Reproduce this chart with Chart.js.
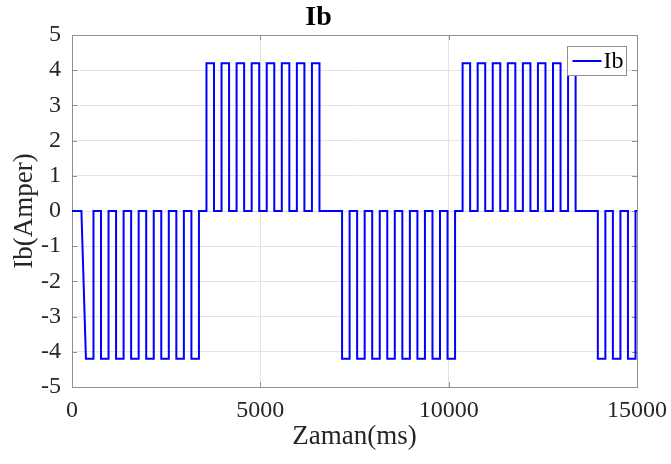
<!DOCTYPE html>
<html>
<head>
<meta charset="utf-8">
<script src="https://cdn.jsdelivr.net/npm/chart.js@4.4.1/dist/chart.umd.min.js"></script>
<style>
html,body{margin:0;padding:0;background:#fff;}
#wrap{width:671px;height:464px;}
canvas{display:block;}
</style>
</head>
<body>
<div id="wrap"><canvas id="c" width="671" height="464"></canvas></div>
<script>
// ---- data ----
const chartTitle = 'Ib';
const seriesLabel = 'Ib';
const xAxisTitle = 'Zaman(ms)';
const yAxisTitle = 'Ib(Amper)';
const xTicks = [0, 5000, 10000, 15000];
const yTicks = [-5, -4, -3, -2, -1, 0, 1, 2, 3, 4, 5];

// waveform vertices (time in ms, current in A)
const timeMs = [
  0, 250, 370, 570, 570,
  770, 770, 970, 970,
  1170, 1170, 1370, 1370,
  1570, 1570, 1770, 1770,
  1970, 1970, 2170, 2170,
  2370, 2370, 2570, 2570,
  2770, 2770, 2970, 2970,
  3170, 3170, 3370, 3370,
  3570, 3570, 3770, 3770,
  3970, 3970, 4170, 4170,
  4370, 4370, 4570, 4570,
  4770, 4770, 4970, 4970,
  5170, 5170, 5370, 5370,
  5570, 5570, 5770, 5770,
  5970, 5970, 6170, 6170,
  6370, 6370, 6570, 6570,
  7170, 7170, 7370, 7370,
  7570, 7570, 7770, 7770,
  7970, 7970, 8170, 8170,
  8370, 8370, 8570, 8570,
  8770, 8770, 8970, 8970,
  9170, 9170, 9370, 9370,
  9570, 9570, 9770, 9770,
  9970, 9970, 10170, 10170,
  10370, 10370, 10570, 10570,
  10770, 10770, 10970, 10970,
  11170, 11170, 11370, 11370,
  11570, 11570, 11770, 11770,
  11970, 11970, 12170, 12170,
  12370, 12370, 12570, 12570,
  12770, 12770, 12970, 12970,
  13170, 13170, 13370, 13370,
  13960, 13960, 14160, 14160,
  14360, 14360, 14560, 14560,
  14760, 14760, 14960, 14960,
  15000
];
const ibAmper = [
  0, 0, -4.2, -4.2, 0,
  0, -4.2, -4.2, 0,
  0, -4.2, -4.2, 0,
  0, -4.2, -4.2, 0,
  0, -4.2, -4.2, 0,
  0, -4.2, -4.2, 0,
  0, -4.2, -4.2, 0,
  0, -4.2, -4.2, 0,
  0, 4.2, 4.2, 0,
  0, 4.2, 4.2, 0,
  0, 4.2, 4.2, 0,
  0, 4.2, 4.2, 0,
  0, 4.2, 4.2, 0,
  0, 4.2, 4.2, 0,
  0, 4.2, 4.2, 0,
  0, 4.2, 4.2, 0,
  0, -4.2, -4.2, 0,
  0, -4.2, -4.2, 0,
  0, -4.2, -4.2, 0,
  0, -4.2, -4.2, 0,
  0, -4.2, -4.2, 0,
  0, -4.2, -4.2, 0,
  0, -4.2, -4.2, 0,
  0, -4.2, -4.2, 0,
  0, 4.2, 4.2, 0,
  0, 4.2, 4.2, 0,
  0, 4.2, 4.2, 0,
  0, 4.2, 4.2, 0,
  0, 4.2, 4.2, 0,
  0, 4.2, 4.2, 0,
  0, 4.2, 4.2, 0,
  0, 4.2, 4.2, 0,
  0, -4.2, -4.2, 0,
  0, -4.2, -4.2, 0,
  0, -4.2, -4.2, 0,
  0
];

// ---- styling ----
const SERIF = "'Liberation Serif', 'Times New Roman', serif";
const LINE_COLOR = '#0000ff';
const TEXT_COLOR = '#262626';
const GRID_COLOR = '#e4e4e4';
const BOX_COLOR = '#8f8f8f';

const framePlugin = {
  id: 'frame',
  beforeDatasetsDraw(chart) {
    const {ctx, chartArea: a, scales: {x, y}} = chart;
    const tl = 5;
    ctx.save();
    ctx.strokeStyle = BOX_COLOR;
    ctx.lineWidth = 1;
    ctx.beginPath();
    xTicks.forEach(v => {
      const px = Math.round(x.getPixelForValue(v)) + 0.5;
      ctx.moveTo(px, a.bottom); ctx.lineTo(px, a.bottom - tl);
      ctx.moveTo(px, a.top); ctx.lineTo(px, a.top + tl);
    });
    yTicks.forEach(v => {
      const py = Math.round(y.getPixelForValue(v)) + 0.5;
      ctx.moveTo(a.left, py); ctx.lineTo(a.left + tl, py);
      ctx.moveTo(a.right, py); ctx.lineTo(a.right - tl, py);
    });
    ctx.stroke();
    ctx.strokeRect(Math.round(a.left) + 0.5, Math.round(a.top) + 0.5,
                   Math.round(a.right - a.left), Math.round(a.bottom - a.top));
    ctx.restore();
  },
  afterDraw(chart) {
    const {ctx, chartArea: a} = chart;
    const ds = chart.data.datasets[0];
    const w = 59, h = 29;
    const left = Math.round(a.right - 11 - w) + 0.5;
    const top = Math.round(a.top + 11) + 0.5;
    ctx.save();
    ctx.fillStyle = '#fff';
    ctx.fillRect(left, top, w, h);
    ctx.strokeStyle = BOX_COLOR;
    ctx.lineWidth = 1;
    ctx.strokeRect(left, top, w, h);
    const cy = top + h / 2;
    ctx.strokeStyle = ds.borderColor;
    ctx.lineWidth = 2;
    ctx.beginPath();
    ctx.moveTo(left + 5, cy); ctx.lineTo(left + 34, cy);
    ctx.stroke();
    ctx.fillStyle = '#000';
    ctx.font = '24px ' + SERIF;
    ctx.textBaseline = 'middle';
    ctx.textAlign = 'left';
    ctx.fillText(ds.label, left + 36, cy + 1);
    ctx.restore();
  }
};

new Chart(document.getElementById('c'), {
  type: 'line',
  data: {
    datasets: [{
      label: seriesLabel,
      data: timeMs.map((t, i) => ({x: t, y: ibAmper[i]})),
      borderColor: LINE_COLOR,
      borderWidth: 2,
      pointRadius: 0,
      tension: 0,
      fill: false
    }]
  },
  options: {
    responsive: false,
    animation: false,
    devicePixelRatio: 1,
    layout: {padding: {left: 0, right: 34, top: 0, bottom: 0}},
    plugins: {
      legend: {display: false},
      tooltip: {enabled: false},
      title: {
        display: true,
        text: chartTitle,
        color: '#000',
        font: {family: SERIF, size: 28, weight: 'bold'},
        padding: {top: 1.4, bottom: 0}
      }
    },
    scales: {
      x: {
        type: 'linear',
        min: 0, max: 15000,
        afterBuildTicks(s) { s.ticks = xTicks.map(v => ({value: v})); },
        afterFit(s) { s.height = 77; s.paddingLeft = 0; s.paddingRight = 0; },
        ticks: {color: TEXT_COLOR, font: {family: SERIF, size: 24}, padding: 9, maxRotation: 0, autoSkip: false,
                callback: v => String(v)},
        grid: {color: GRID_COLOR, drawTicks: false},
        border: {display: false},
        title: {display: true, text: xAxisTitle, color: TEXT_COLOR, font: {family: SERIF, size: 27}, padding: {top: 0, bottom: 11}}
      },
      y: {
        type: 'linear',
        min: -5, max: 5,
        afterBuildTicks(s) { s.ticks = yTicks.map(v => ({value: v})); },
        afterFit(s) { s.width = 72; s.paddingTop = 0; s.paddingBottom = 0; },
        ticks: {color: TEXT_COLOR, font: {family: SERIF, size: 24}, padding: 11, autoSkip: false,
                callback: v => String(v)},
        grid: {color: GRID_COLOR, drawTicks: false},
        border: {display: false},
        title: {display: true, text: yAxisTitle, color: TEXT_COLOR, font: {family: SERIF, size: 27}, padding: {top: 9, bottom: 0}}
      }
    }
  },
  plugins: [framePlugin]
});
</script>
</body>
</html>
